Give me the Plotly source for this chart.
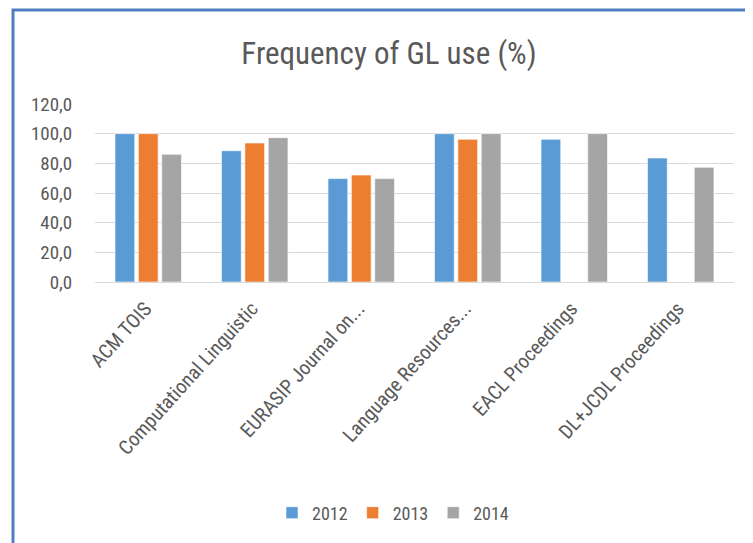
import plotly.graph_objects as go

categories = ["ACM TOIS", "Computational Linguistic", "EURASIP Journal on...",
              "Language Resources...", "EACL Proceedings", "DL+JCDL Proceedings"]
years = ["2012", "2013", "2014"]
v2012 = [100.0, 88.5, 69.7, 100.0, 96.2, 83.6]
v2013 = [100.0, 93.7, 72.1, 96.2, None, None]
v2014 = [86.1, 97.3, 69.7, 100.0, 100.0, 77.3]
colors = ["#5B9BD5", "#ED7D31", "#A5A5A5"]
y_ticks = [0, 20, 40, 60, 80, 100, 120]

FONT = "Liberation Sans Narrow, Arial Narrow, Roboto Condensed, Roboto, sans-serif"
TXT = "#595959"
OFF = 8  # page body offset

W, H = 753, 543
L, R, T, B = 95 - OFF, W - (734 - OFF), 104 - OFF, H - (282 - OFF)
PW, PH = W - L - R, H - T - B

fig = go.Figure()
for name, vals, col in zip(years, [v2012, v2013, v2014], colors):
    fig.add_trace(go.Bar(x=categories, y=vals, name=name, marker_color=col,
                         marker_line=dict(color="rgba(255,255,255,0.6)", width=1)))

fig.update_layout(
    width=W, height=H,
    margin=dict(l=L, r=R, t=T, b=B, autoexpand=False),
    paper_bgcolor="white", plot_bgcolor="white",
    separators=",.",
    barmode="group", bargap=0.342, bargroupgap=0.155,
    font=dict(family=FONT, color=TXT),
    title=dict(text="Frequency of GL use (%)", x=(389 - OFF) / W, xanchor="center",
               y=1 - (53 - OFF) / H, yanchor="middle", yref="container",
               font=dict(size=31, color=TXT, family=FONT)),
    yaxis=dict(range=[0, 120], tickvals=y_ticks, tickformat=".1f",
               showgrid=True, gridcolor="#D9D9D9", gridwidth=1,
               zeroline=True, zerolinecolor="#D9D9D9", zerolinewidth=1,
               showline=False, ticks="outside", ticklen=18, tickcolor="rgba(0,0,0,0)",
               automargin=False,
               tickfont=dict(size=19, color=TXT, family=FONT)),
    xaxis=dict(tickangle=-48, showline=False, ticks="", automargin=False,
               ticklabelstandoff=10, ticklabelshift=-3,
               tickfont=dict(size=20, color=TXT, family=FONT)),
    showlegend=True,
    legend=dict(orientation="h", xref="container", yref="container",
                x=(393 - OFF) / W, xanchor="center", y=1 - (513 - OFF) / H, yanchor="middle",
                font=dict(size=18, color=TXT, family=FONT),
                itemwidth=30, traceorder="normal"),
)

# outer chart frame (blue border on top and left, running off the page)
fig.add_shape(type="rect", xref="paper", yref="paper",
              x0=(13 - OFF - L) / PW, x1=(W + 20 - L) / PW,
              y0=-(B + 20) / PH, y1=(PH + T - (10 - OFF)) / PH,
              line=dict(color="#4F7FC0", width=3), fillcolor="rgba(0,0,0,0)", layer="below")

fig.write_html("out.html")
